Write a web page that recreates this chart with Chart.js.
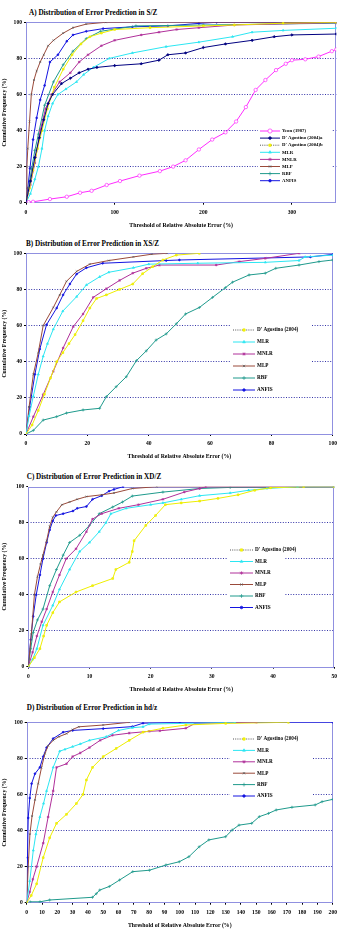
<!DOCTYPE html>
<html>
<head>
<meta charset="utf-8">
<script src="https://cdn.jsdelivr.net/npm/chart.js@4.4.1/dist/chart.umd.min.js"></script>
<style>
  body { margin: 0; background: #fff; width: 341px; height: 946px; position: relative; overflow: hidden; }
  canvas { position: absolute; left: 0; }
  .ttl { position: absolute; font-family: "Liberation Serif", "Times New Roman", serif; font-weight: bold;
         font-size: 7.2px; line-height: 8px; white-space: nowrap; color: #000; }
</style>
</head>
<body>
<div class="ttl" style="left:29px;top:8.7px">A) Distribution of Error Prediction in S/Z</div>
<div class="ttl" style="left:26px;top:240px">B) Distribution of Error Prediction in XS/Z</div>
<div class="ttl" style="left:26.7px;top:473px">C) Distribution of Error Prediction in XD/Z</div>
<div class="ttl" style="left:26.7px;top:704px">D) Distribution of Error Prediction in hd/z</div>
<canvas id="cA" width="341" height="235" style="top:0px"></canvas>
<canvas id="cB" width="341" height="233" style="top:235px"></canvas>
<canvas id="cC" width="341" height="234" style="top:468px"></canvas>
<canvas id="cD" width="341" height="244" style="top:702px"></canvas>
<script>
// tick labels
const yTicks = [0, 20, 40, 60, 80, 100];
const xTicksA = [0, 100, 200, 300];
const xTicksB = [0, 20, 40, 60, 80, 100];
const xTicksC = [0, 10, 20, 30, 40, 50];
const xTicksD = [0, 10, 20, 30, 40, 50, 60, 70, 80, 90, 100, 110, 120, 130, 140, 150, 160, 170, 180, 190, 200];

const namesA = ["Yeon (1987)", "D' Agostino (2004)a", "D' Agostino (2004)b", "MLR", "MNLR", "MLP", "RBF", "ANFIS"];
const namesBCD = ["D' Agostino (2004)", "MLR", "MNLR", "MLP", "RBF", "ANFIS"];

// A) S/Z  [threshold %, cumulative %]
const A_yeon = [[3,0.3],[8,0.5],[27,2],[46,3.3],[61,5.5],[74,6.6],[91,9.8],[106,12],[128,15],[151,17.5],[166,20],[180,23.5],[195,29.5],[210,35],[225,39],[237,45],[248,53],[259,62.5],[270,68],[282,73.5],[293,77],[300,79],[315,79.5],[330,81],[345,84],[350,85]];
const A_dagA = [[0,0],[5,12],[10,25],[15,36],[20,46],[25,55],[30,60],[40,66],[50,69],[60,72],[70,74],[80,75],[100,76],[130,77],[150,79],[160,82],[180,83],[200,86],[225,88],[255,90],[280,92],[300,93],[350,93.5]];
const A_dagB = [[0,0],[4,8],[8,18],[13,30],[18,40],[24,52],[32,64],[42,74],[52,82],[62,88],[72,92],[85,94],[100,96],[140,97],[200,98],[235,98.5],[290,99.5],[350,100]];
const A_mlr = [[0,0],[5,5],[10,13],[14,20],[18,30],[21,40],[25,48],[30,55],[36,60],[45,63],[57,67],[65,71],[76,75],[94,80],[120,83],[158,86.5],[195,89],[233,92],[255,94.5],[290,95.5],[350,96.7]];
const A_mnlr = [[0,0],[5,10],[10,22],[16,40],[22,52],[29,60],[38,67],[50,72],[60,78],[70,82],[85,87],[100,90],[130,93],[150,94.5],[170,96],[195,97],[235,98.5],[350,99.8]];
const A_mlp = [[0,0],[1,20],[2,30],[4,45],[6,60],[9,68],[12,73],[16,78],[20,82],[25,87],[31,90],[42,94],[53,97],[68,99],[90,100],[350,100]];
const A_rbf = [[0,0],[3,8],[6.4,19],[10,29],[14,38],[21,54],[31,67],[42,76.5],[53,84],[68,91],[84,95],[124,98],[200,98.5],[350,99.5]];
const A_anfis = [[0,0],[2,8],[4.5,19],[8,35],[12,47],[16,57],[21,65],[27,78],[36,82],[46,89.5],[53,93],[68,95],[87,96.5],[120,97.5],[160,98],[195,99.4],[215,100],[350,100]];

// B) XS/Z
const B_dag = [[0,0],[2,5],[4,13],[6,22],[8,31],[10,40],[12,45],[14,50],[16,55],[18.6,62.7],[20.8,69.7],[23,75],[26.2,77],[30.5,80],[34.8,83],[38,88.7],[41.3,92.6],[44.6,96.3],[49,99],[56.5,100]];
const B_mlr = [[0,0],[1,10],[2.4,21],[4,33],[5.6,43],[7,50],[8.9,58],[12,68],[16.5,76],[19.7,82.5],[24,87],[27,89.5],[35,92],[40,94],[56,94.5],[78,95],[89,96],[91,98],[100,99]];
const B_mnlr = [[0,0],[2.4,9.6],[5.6,21.8],[8.9,34.7],[12.1,47.6],[15.4,59.4],[18.6,66.4],[21.9,75.6],[26.2,80.4],[30.5,85],[34.8,89],[39.2,91.7],[43.5,93.5],[62,93.5],[69.5,95.4],[78,97.2],[89,100]];
const B_mlp = [[0,0],[1,15],[2.4,33],[4,45],[5.6,60],[8.9,70],[11,77],[13.2,84.5],[16.5,90],[20.8,94],[27,96],[35,98],[41,99.5],[46,100]];
const B_rbf = [[0,0],[2.4,2],[5.6,7.7],[10,9.6],[13.2,11.6],[18.6,13.3],[24,14.2],[26.2,20.7],[29.4,26.2],[32.7,31.7],[36,40.6],[39.2,46],[42.4,52],[45.7,55.4],[49,61],[52,66.4],[56.5,70],[60.8,75.6],[65,81],[67.3,84],[72.7,88],[78,89],[81.4,91.7],[89,93.5],[95.5,95.4],[100,96.3]];
const B_anfis = [[0,0],[1.2,15],[2.9,33],[4.5,47],[6.7,60.5],[10,69.7],[12.1,77],[14.3,83],[16.5,88.5],[19.7,92],[25,94.5],[45.7,96],[50,96.3],[92.7,98],[100,99.4]];

// C) XD/Z
const C_dag = [[0,0],[1,5],[1.9,10],[2.5,17],[3,23],[4,30],[5.1,36],[7.8,41.5],[10.5,45],[13.8,49],[14.3,54],[16.5,58],[17,64],[17.3,70],[19.2,78.5],[20.8,84],[22.4,90],[25,91],[28,92],[31,93.5],[34.3,95.5],[37,98],[39.6,99.4],[45,100],[50,100]];
const C_mlr = [[0,0],[0.7,4],[1.4,10],[2.4,23],[4,34],[5.1,43],[6.75,54],[8.4,64],[10,69],[11.6,75],[12.7,80],[13.5,85],[16,88],[20,90],[22,91],[25,93],[28,95],[33,96.5],[36,98],[39,99],[44,100],[50,100]];
const C_mnlr = [[0,0],[0.7,8],[1.4,17],[2.2,25],[3,32],[4,41.5],[5.1,51],[6.2,60],[7.8,65.5],[9.5,75],[10.5,82],[12,85],[14.8,88],[18,90],[22,93],[25.5,97],[28,99],[29,100],[50,100]];
const C_mlp = [[0,0],[0.5,18],[1,40],[1.5,50],[2,57],[2.4,62],[3,70],[3.5,78],[4,83],[4.6,86],[5.5,90],[6.75,91.5],[8,93],[9.5,94.5],[12,95.5],[14,96.5],[17,99],[21,100],[50,100]];
const C_rbf = [[0,0],[0.4,10],[0.8,19],[1.5,26],[2.4,32],[3.5,45],[4.6,54],[5.7,62],[6.75,69],[8.4,73],[10,78.5],[11.6,85],[13.8,88.7],[15.4,91.5],[17,94.8],[22,97],[28,99],[33,99.6],[50,100]];
const C_anfis = [[0,0],[0.4,15],[0.8,28],[1.3,40],[1.9,51],[2.4,60],[3,69],[3.5,76],[4,81],[4.5,84],[5.7,85],[7.3,86.5],[8,88],[9.5,89],[10.5,93],[12,95],[13.2,97.5],[14,98.5],[15.5,100]];

// D) hd/z
const D_dag = [[0,0],[3,4],[6.5,10.5],[10.8,25],[15,36],[19.5,44],[26,49],[32.5,55],[36.8,60],[39,68],[43,75],[50,81],[58.5,85.5],[67,90],[76,94.5],[89,96.7],[104,98.5],[130,99.4],[171,100]];
const D_mlr = [[0,0],[2,12],[4.3,29],[6,38],[8.6,47.5],[11,55],[13,62],[17.3,75],[21.6,84],[25,85],[30,86.5],[35,88],[41,90],[52,92],[60,95.5],[69,97],[76,97.5],[80,99],[136,100]];
const D_mnlr = [[0,0],[2,6],[4,13],[6.5,20],[10.8,33],[14,47.5],[17.3,62],[19.5,75],[26,77],[30,81],[35,83],[41,86],[48,90],[56,92.8],[67,94],[80,95],[87,95.3],[104,96.7],[110,99.4],[150,100]];
const D_mlp = [[0,0],[1,20],[2.1,38],[3.5,48],[5.4,57],[7.5,66],[9.7,75],[11.9,82.6],[14,87],[17.3,90],[21,92],[26,93.7],[30,96],[34,97.5],[50,98.5],[67,100]];
const D_rbf = [[2.2,0.5],[8.7,0.5],[15,1.5],[43,3],[45.5,5],[47.7,7],[54,9],[60.7,12.6],[69.3,17.2],[80.2,18],[91,20.9],[99.7,22.7],[106,25.5],[112.7,31],[119,34.8],[130,36.6],[134.3,40.3],[138.7,43],[147,44],[152,47.7],[158,49.5],[163,51.4],[173.3,52.9],[188.5,54.2],[193,56],[200,57.3]];
const D_anfis = [[0,0],[0.5,25],[1,47],[2,58],[3.2,66],[5.4,71.5],[8.6,75],[10.8,81],[13,86],[17.3,91],[23.8,94.5],[30,95.5],[50,96.5],[69,97.6],[76,99.5],[100,100],[200,100]];

// look of each series
const styles = {
  yeon:  { line: '#ff2cff', pt: 'circle',   r: 1.7, fill: '#ffffff', edge: '#ff2cff' },
  dagA:  { line: '#000080', pt: 'rectRot',  r: 1.3, fill: '#000080', edge: '#000080' },
  dag:   { line: '#eeee00', pt: 'rect',     r: 1.2, fill: '#ffff00', edge: '#e6e600', legLine: '#555555', legDash: [1, 1.2] },
  mlr:   { line: '#2ce6f2', pt: 'triangle', r: 1.2, fill: '#2ce6f2', edge: '#2ce6f2' },
  mnlr:  { line: '#b0309a', pt: 'star',     r: 1.3, fill: '#b0309a', edge: '#b0309a' },
  mlp:   { line: '#9a4a3a', pt: 'crossRot', r: 1.2, fill: '#555555', edge: '#555555' },
  rbf:   { line: '#1f9a8c', pt: 'cross',    r: 1.5, fill: '#1f9a8c', edge: '#1f9a8c' },
  anfis: { line: '#1414e0', pt: 'circle',   r: 0.9, fill: '#1414e0', edge: '#1414e0' }
};

const serif = '"Liberation Serif", "Times New Roman", serif';

const framePlugin = {
  id: 'frame',
  beforeDatasetsDraw(chart) {
    const a = chart.chartArea, ctx = chart.ctx;
    ctx.save();
    ctx.strokeStyle = '#9090e0';
    ctx.lineWidth = 1;
    ctx.strokeRect(Math.round(a.left) + 0.5, Math.round(a.top) + 0.5, Math.round(a.right - a.left) - 1, Math.round(a.bottom - a.top));
    ctx.restore();
  }
};

function legendPlugin(b) {
  return {
    id: 'boxLegend',
    afterDatasetsDraw(chart) {
      const ctx = chart.ctx;
      ctx.save();
      ctx.fillStyle = '#fff';
      ctx.fillRect(b.x0, b.y0, b.x1 - b.x0, b.y1 - b.y0);
      chart.data.datasets.forEach((ds, i) => {
        const y = b.first + i * b.step;
        ctx.strokeStyle = ds.legLine || ds.borderColor;
        ctx.setLineDash(ds.legDash || []);
        ctx.lineWidth = 1;
        ctx.beginPath();
        ctx.moveTo(b.s0, y);
        ctx.lineTo(b.s1, y);
        ctx.stroke();
        ctx.setLineDash([]);
        ctx.fillStyle = ds.pointBackgroundColor;
        ctx.strokeStyle = ds.pointBorderColor;
        ctx.lineWidth = ds.pointBorderWidth;
        if (Chart.helpers && Chart.helpers.drawPoint) {
          Chart.helpers.drawPoint(ctx, { pointStyle: ds.pointStyle, radius: ds.pointRadius + 0.4, borderWidth: ds.pointBorderWidth, rotation: 0 }, (b.s0 + b.s1) / 2, y);
        }
        ctx.fillStyle = '#000';
        ctx.font = 'bold ' + b.font + 'px ' + serif;
        ctx.textBaseline = 'middle';
        ctx.fillText(ds.label, b.tx, y);
      });
      ctx.restore();
    }
  };
}

function makeChart(id, xMax, xTicks, series, box, L) {
  const tickFont = { family: serif, size: 5.6, weight: 'bold' };
  const titleFont = { family: serif, size: 5.8, weight: 'bold' };
  new Chart(document.getElementById(id), {
    type: 'scatter',
    data: {
      datasets: series.map(s => {
        const st = styles[s.style];
        return {
          label: s.name,
          data: s.data.map(p => ({ x: p[0], y: p[1] })),
          showLine: true,
          borderColor: st.line,
          borderWidth: 1,
          pointStyle: st.pt,
          pointRadius: st.r,
          pointBorderColor: st.edge,
          pointBackgroundColor: st.fill,
          pointBorderWidth: 0.7,
          legLine: st.legLine,
          legDash: st.legDash
        };
      })
    },
    options: {
      responsive: false,
      animation: false,
      devicePixelRatio: 1,
      layout: { padding: { left: 0, top: L.top, right: L.right, bottom: L.bottom } },
      plugins: { legend: { display: false }, tooltip: { enabled: false } },
      scales: {
        x: {
          type: 'linear', min: 0, max: xMax,
          afterBuildTicks: s => { s.ticks = xTicks.map(v => ({ value: v })); },
          afterFit: s => { s.height = L.xh; },
          grid: { drawOnChartArea: false, tickLength: 2, tickColor: '#000' },
          border: { display: false },
          ticks: { autoSkip: false, maxRotation: 0, padding: 4, color: '#000', font: tickFont },
          title: { display: true, text: 'Threshold of Relative Absolute Error (%)', color: '#000', font: titleFont, padding: 0 }
        },
        y: {
          min: 0, max: 100,
          afterBuildTicks: s => { s.ticks = yTicks.map(v => ({ value: v })); },
          afterFit: s => { s.width = L.left; },
          grid: {
            color: c => (c.tick && c.tick.value > 0 && c.tick.value < 100) ? '#3434a8' : 'rgba(0,0,0,0)',
            tickColor: '#000', tickLength: 2, tickBorderDash: []
          },
          border: { display: false, dash: [1, 1.6] },
          ticks: { padding: 2, color: '#000', font: tickFont },
          title: { display: true, text: 'Cumulative Frequency (%)', color: '#000', font: titleFont, padding: { top: 0.8, bottom: 0 } }
        }
      }
    },
    plugins: [framePlugin, legendPlugin(box)]
  });
}

const keysA = ['yeon', 'dagA', 'dag', 'mlr', 'mnlr', 'mlp', 'rbf', 'anfis'];
const keysBCD = ['dag', 'mlr', 'mnlr', 'mlp', 'rbf', 'anfis'];
const dataA = [A_yeon, A_dagA, A_dagB, A_mlr, A_mnlr, A_mlp, A_rbf, A_anfis];
const dataB = [B_dag, B_mlr, B_mnlr, B_mlp, B_rbf, B_anfis];
const dataC = [C_dag, C_mlr, C_mnlr, C_mlp, C_rbf, C_anfis];
const dataD = [D_dag, D_mlr, D_mnlr, D_mlp, D_rbf, D_anfis];

makeChart('cA', 350, xTicksA, namesA.map((n, i) => ({ name: n, data: dataA[i], style: keysA[i] })),
  { x0: 258, x1: 332, y0: 125, y1: 186, first: 131, step: 7.1, s0: 260, s1: 280, tx: 282, font: 4.8 },
  { top: 22.3, right: 0.3, bottom: 6.4, left: 26, xh: 25.9 });

makeChart('cB', 100, xTicksB, namesBCD.map((n, i) => ({ name: n, data: dataB[i], style: keysBCD[i] })),
  { x0: 230, x1: 312, y0: 87, y1: 162, first: 95, step: 12, s0: 233, s1: 255, tx: 257, font: 5.2 },
  { top: 18.3, right: 6, bottom: 8.4, left: 26, xh: 25.6 });

makeChart('cC', 50, xTicksC, namesBCD.map((n, i) => ({ name: n, data: dataC[i], style: keysBCD[i] })),
  { x0: 228, x1: 285, y0: 75, y1: 146, first: 82, step: 11.5, s0: 230, s1: 253, tx: 255, font: 5.2 },
  { top: 18.7, right: 3.7, bottom: 9.4, left: 28.3, xh: 25.9 });

makeChart('cD', 200, xTicksD, namesBCD.map((n, i) => ({ name: n, data: dataD[i], style: keysBCD[i] })),
  { x0: 230, x1: 312, y0: 30, y1: 100, first: 37, step: 11.4, s0: 233, s1: 255, tx: 257, font: 5.2 },
  { top: 20.3, right: 6.7, bottom: 17.4, left: 26.7, xh: 25.9 });
</script>
</body>
</html>
